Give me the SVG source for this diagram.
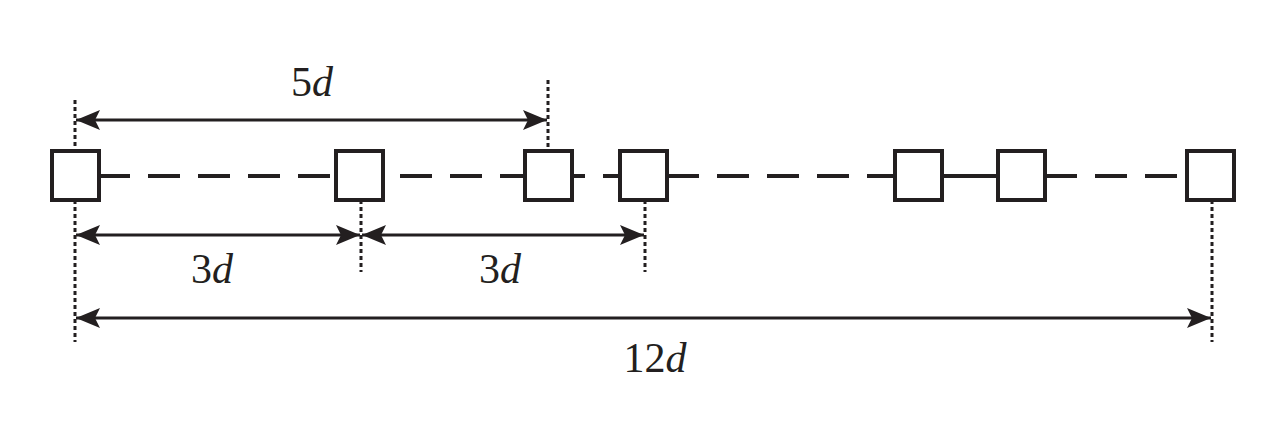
<svg xmlns="http://www.w3.org/2000/svg" width="1284" height="437" viewBox="0 0 1284 437">
<style>
.sq{fill:#fff;stroke:#231f20;stroke-width:4}
.ln{stroke:#231f20;stroke-width:4;fill:none}
.dl{stroke:#231f20;stroke-width:4;stroke-dasharray:32 18;fill:none}
.dot{stroke:#231f20;stroke-width:3;stroke-dasharray:4 3;fill:none}
.dim{stroke:#231f20;stroke-width:3;fill:none}
.t{font-family:'Liberation Serif','Times New Roman',serif;font-size:42px;fill:#231f20;text-anchor:middle}
</style>
<defs>
<marker id="c" viewBox="0 0 24 20" refX="24" refY="10" markerWidth="24" markerHeight="20" markerUnits="userSpaceOnUse" orient="auto"><path d="M0,0 L24,10 L0,20 L5,10z" fill="#231f20"/></marker>
<marker id="b" viewBox="0 0 24 20" refX="0" refY="10" markerWidth="24" markerHeight="20" markerUnits="userSpaceOnUse" orient="auto"><path d="M24,0 L0,10 L24,20 L19,10z" fill="#231f20"/></marker>
</defs>
<g id="connectors">
<line class="ln" x1="100" y1="176" x2="130" y2="176"/>
<path class="dl" d="M148 176H335"/>
<path class="dl" d="M400 176H524"/>
<line class="ln" x1="572" y1="176" x2="585" y2="176"/>
<line class="ln" x1="603" y1="176" x2="619" y2="176"/>
<path class="dl" d="M667 176H894"/>
<line class="ln" x1="942" y1="176" x2="997" y2="176"/>
<path class="dl" d="M1045 176H1187"/>
<line class="dot" x1="75" y1="100" x2="75" y2="150"/>
<line class="dot" x1="75" y1="200" x2="75" y2="342"/>
<line class="dot" x1="548" y1="80" x2="548" y2="150"/>
<line class="dot" x1="361" y1="200" x2="361" y2="272"/>
<line class="dot" x1="645" y1="200" x2="645" y2="272"/>
<line class="dot" x1="1212" y1="200" x2="1212" y2="342"/>
<line class="dim" x1="76" y1="120" x2="547" y2="120" marker-start="url(#b)" marker-end="url(#c)"/>
<line class="dim" x1="76" y1="235" x2="360" y2="235" marker-start="url(#b)" marker-end="url(#c)"/>
<line class="dim" x1="362" y1="235" x2="644" y2="235" marker-start="url(#b)" marker-end="url(#c)"/>
<line class="dim" x1="76" y1="318" x2="1211" y2="318" marker-start="url(#b)" marker-end="url(#c)"/>
</g>
<g id="n1"><rect class="sq" x="52" y="151" width="47" height="49"/></g>
<g id="n2"><rect class="sq" x="336" y="151" width="47" height="49"/></g>
<g id="n3"><rect class="sq" x="525" y="151" width="47" height="49"/></g>
<g id="n4"><rect class="sq" x="620" y="151" width="47" height="49"/></g>
<g id="n5"><rect class="sq" x="895" y="151" width="47" height="49"/></g>
<g id="n6"><rect class="sq" x="998" y="151" width="47" height="49"/></g>
<g id="n7"><rect class="sq" x="1187" y="151" width="47" height="49"/></g>
<g id="labels">
<text class="t" x="312" y="96">5<tspan font-style="italic">d</tspan></text>
<text class="t" x="212" y="283">3<tspan font-style="italic">d</tspan></text>
<text class="t" x="500" y="283">3<tspan font-style="italic">d</tspan></text>
<text class="t" x="655" y="372">12<tspan font-style="italic">d</tspan></text>
</g>
</svg>
